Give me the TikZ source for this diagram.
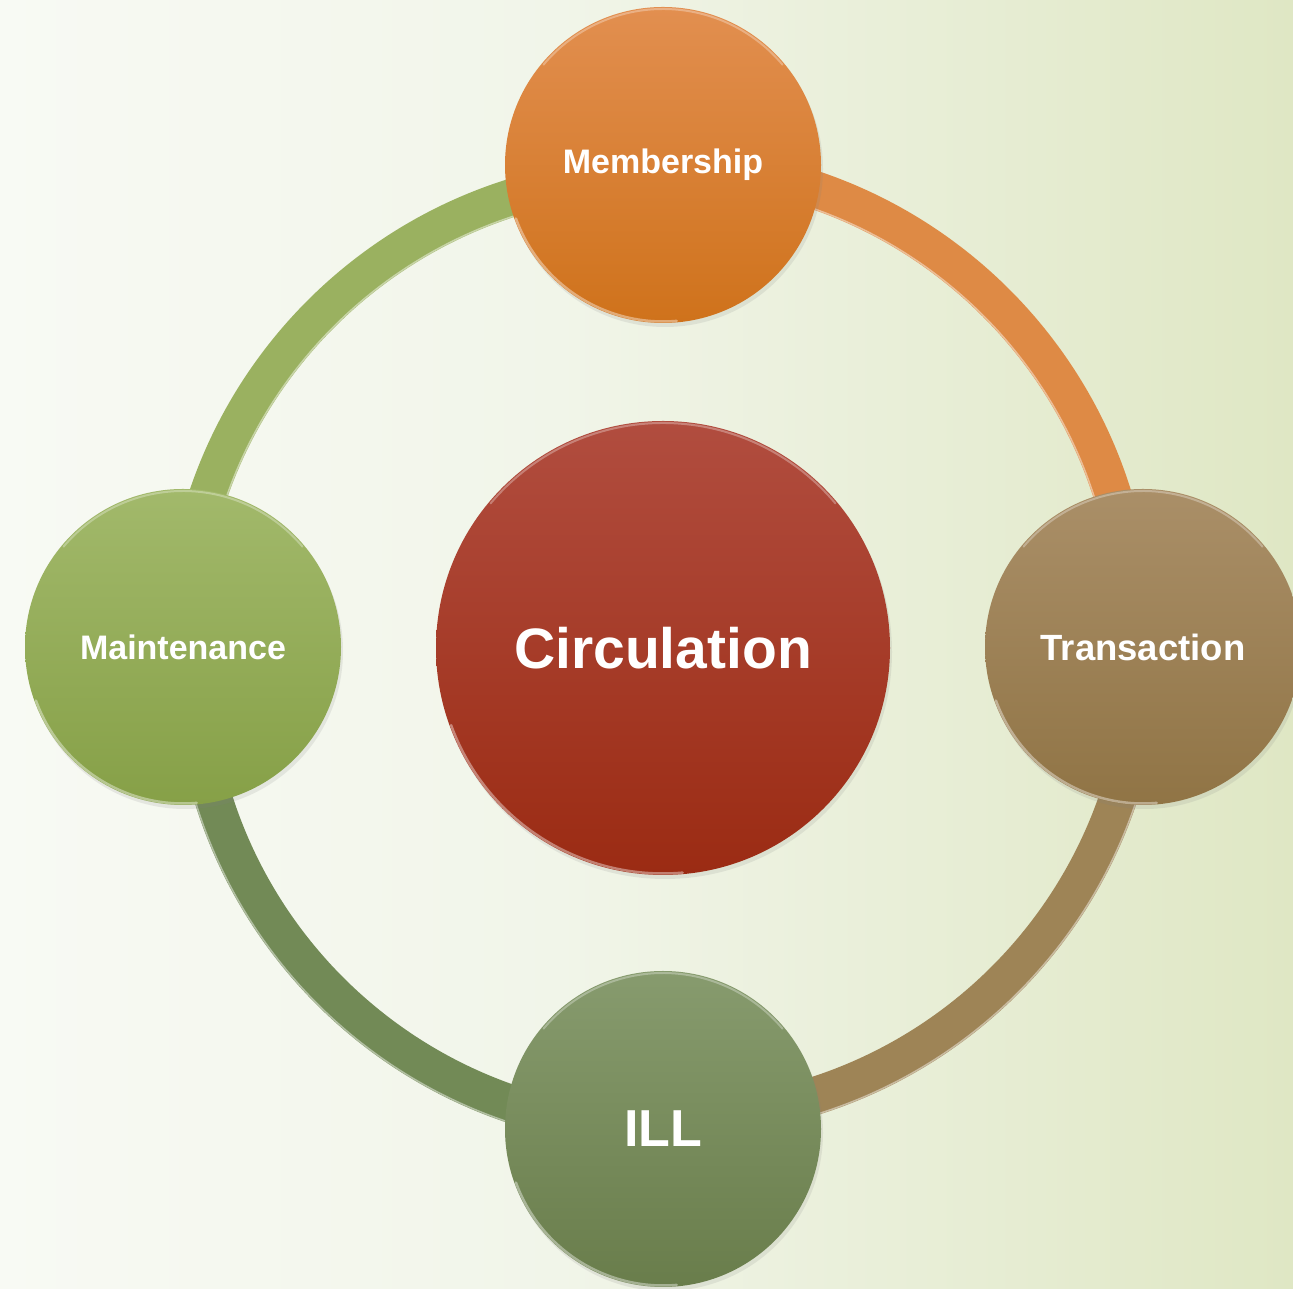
\documentclass[tikz,border=0pt]{standalone}
\usepackage{fontspec}
\setmainfont{Liberation Sans}
\usetikzlibrary{shadows}
\pgfdeclarelayer{bg}
\pgfsetlayers{bg,main}
\definecolor{bgL}{HTML}{F8FAF4}
\definecolor{bgM}{HTML}{F1F5E9}
\definecolor{bgR}{HTML}{DFE7C4}
\definecolor{memT}{HTML}{E28F50}
\definecolor{memB}{HTML}{CF721B}
\definecolor{cirT}{HTML}{B14D3F}
\definecolor{cirB}{HTML}{9B2B13}
\definecolor{traT}{HTML}{AA8F68}
\definecolor{traB}{HTML}{907445}
\definecolor{maiT}{HTML}{A2B96B}
\definecolor{maiB}{HTML}{86A047}
\definecolor{illT}{HTML}{879B6E}
\definecolor{illB}{HTML}{697D4B}
\definecolor{rGreen}{HTML}{9AB160}
\definecolor{rOrange}{HTML}{DE8A45}
\definecolor{rTan}{HTML}{9E8456}
\definecolor{rDark}{HTML}{728A56}
\begin{document}
\begin{tikzpicture}[x=1pt,y=1pt,
  ball/.style={circle, minimum size=316pt, inner sep=0pt, text=white,
    font=\bfseries\fontsize{34}{34}\selectfont,
    drop shadow={opacity=0.15, shadow xshift=2pt, shadow yshift=-4pt}},
  ringarc/.style={line width=38pt},
  gloss/.style={white, opacity=0.3, line width=2pt, line cap=round}]
\useasboundingbox (0,0) rectangle (1293,1289);
\clip (0,0) rectangle (1293,1289);
% nodes
\node[ball, top color=memT, bottom color=memB] (mem) at (663,1124) {Membership};
\node[ball, top color=maiT, bottom color=maiB] (main) at (183,642) {Maintenance};
\node[ball, top color=traT, bottom color=traB, font=\bfseries\fontsize{36.5}{36.5}\selectfont] (trans) at (1143,642) {Transaction};
\node[ball, top color=illT, bottom color=illB, font=\bfseries\fontsize{52}{52}\selectfont] (ill) at (663,160) {ILL};
\node[ball, minimum size=454pt, top color=cirT, bottom color=cirB, font=\bfseries\fontsize{57}{57}\selectfont] (circ) at (663,641) {Circulation};
% gloss rims
\foreach \n/\r in {mem/158, main/158, trans/158, ill/158, circ/227}{
  \draw[gloss] (\n.center) ++(140:{\r-2}) arc[start angle=140, end angle=40, radius={\r-2}];
  \draw[gloss, opacity=0.4, line width=2.5pt] (\n.center) ++(200:{\r-1.5}) arc[start angle=200, end angle=275, radius={\r-1.5}];
}
\begin{pgfonlayer}{bg}
  \shade[left color=bgL, right color=bgM] (0,0) rectangle (560,1289);
  \shade[left color=bgM, right color=bgR] (559,0) rectangle (1293,1289);
  \draw[ringarc, rGreen] (main.center) arc[start angle=180, end angle=90, radius=471];
  \draw[ringarc, rOrange] (mem.center) arc[start angle=90, end angle=0, radius=471];
  \draw[ringarc, rTan] (trans.center) arc[start angle=0, end angle=-90, radius=471];
  \draw[ringarc, rDark] (ill.center) arc[start angle=270, end angle=180, radius=471];
  % ring highlights
  \draw[gloss, opacity=0.45, line width=1.5pt] (main.center) ++(18,0) arc[start angle=180, end angle=90, radius=453];
  \draw[gloss, opacity=0.45, line width=1.5pt] (mem.center) ++(0,-18) arc[start angle=90, end angle=0, radius=453];
  \draw[gloss, opacity=0.45, line width=1.5pt] (trans.center) ++(18,0) arc[start angle=0, end angle=-90, radius=489];
  \draw[gloss, opacity=0.45, line width=1.5pt] (ill.center) ++(0,-18) arc[start angle=270, end angle=180, radius=489];
\end{pgfonlayer}
\end{tikzpicture}
\end{document}
